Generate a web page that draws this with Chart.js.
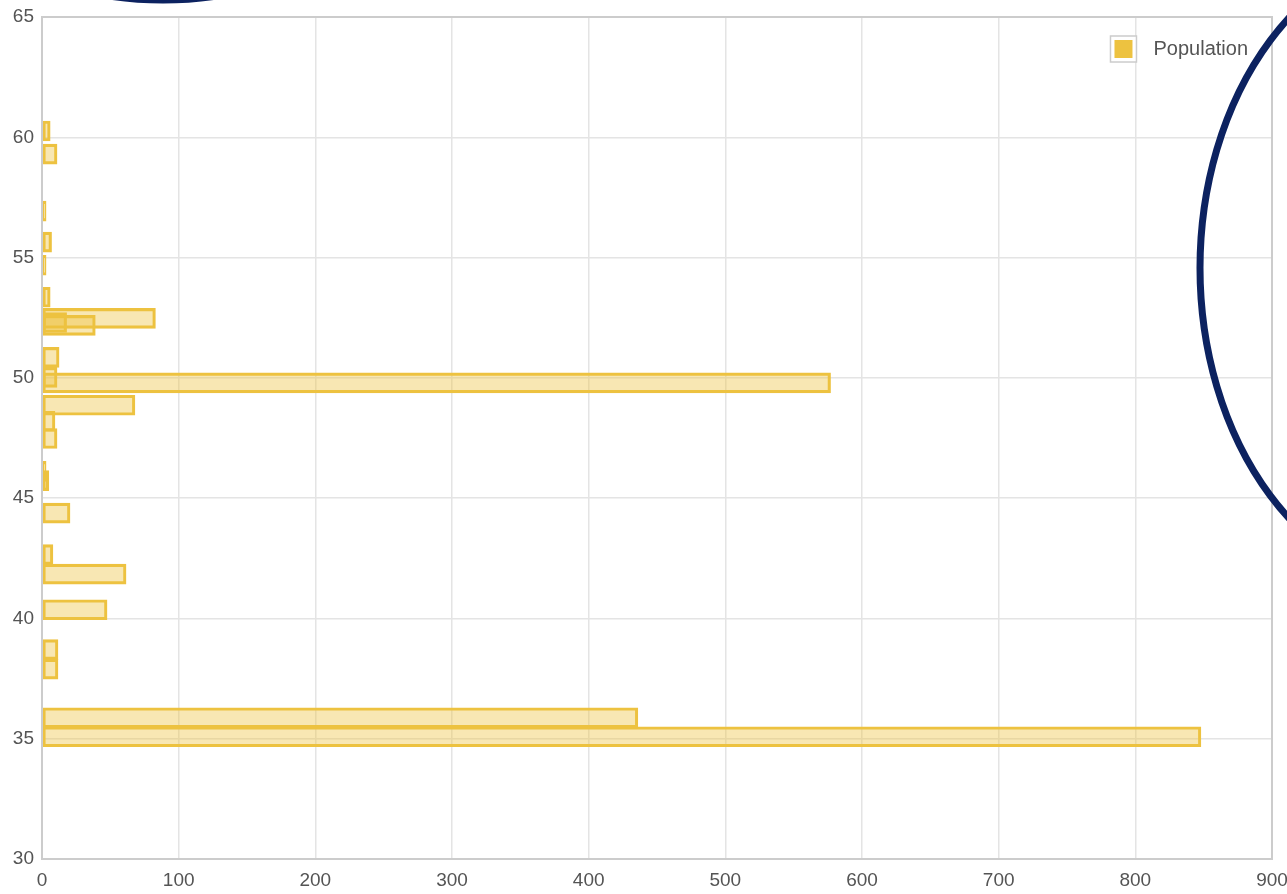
<!DOCTYPE html>
<html>
<head>
<meta charset="utf-8">
<script src="https://cdn.jsdelivr.net/npm/chart.js@4.4.1/dist/chart.umd.min.js"></script>
<style>
  html, body { margin: 0; padding: 0; background: #ffffff; }
  #wrap { width: 1287px; height: 894px; }
</style>
</head>
<body>
<div id="wrap"><canvas id="c" width="1287" height="894"></canvas></div>
<script>
// ---- data ----
const seriesLabel = "Population";
const latitudes  = [60.26, 59.30, 56.93, 55.64, 54.68, 53.35, 52.47, 52.30, 52.18, 50.85, 50.02, 49.79, 48.86, 48.19, 47.48, 46.11, 45.73, 44.38, 42.65, 41.84, 40.36, 38.70, 37.89, 35.87, 35.08];
const population = [6, 11, 3, 7, 3, 6, 83, 18, 39, 12.5, 11, 577, 68, 9.5, 11, 3, 5, 20.5, 8, 61.5, 47.6, 11.7, 11.7, 436, 848];
const yTickRange = [30, 65, 5];   // min, max, step
const xTickRange = [0, 900, 100]; // min, max, step

const points = latitudes.map((lat, i) => ({ x: population[i], y: lat }));
const FONT = "'Liberation Sans', Arial, sans-serif";

const frameLegendMarks = {
  id: 'frameLegendMarks',
  afterDraw(chart) {
    const ctx = chart.ctx;
    const a = chart.chartArea;
    ctx.save();
    // plot frame
    ctx.strokeStyle = '#cccccc';
    ctx.lineWidth = 2;
    ctx.strokeRect(a.left, a.top, a.right - a.left, a.bottom - a.top);

    // legend inside the plot area, top-right
    ctx.font = '20px ' + FONT;
    ctx.textBaseline = 'middle';
    ctx.textAlign = 'left';
    let y = a.top + 32;
    chart.data.datasets.forEach(ds => {
      const tw = ctx.measureText(ds.label).width;
      const tx = a.right - 24 - tw;
      const bx = tx - 21 - 18;
      ctx.fillStyle = '#ffffff';
      ctx.fillRect(bx - 4, y - 13, 26, 26);
      ctx.strokeStyle = '#cccccc';
      ctx.lineWidth = 1.5;
      ctx.strokeRect(bx - 4, y - 13, 26, 26);
      ctx.fillStyle = ds.borderColor;
      ctx.fillRect(bx, y - 9, 18, 18);
      ctx.fillStyle = '#545454';
      ctx.fillText(ds.label, tx, y);
      y += 28;
    });

    // hand-drawn annotation outlines
    ctx.strokeStyle = '#0c2260';
    ctx.lineWidth = 7;
    ctx.beginPath();
    ctx.ellipse(163, -300, 330, 300, 0, 0, Math.PI * 2);
    ctx.stroke();
    ctx.beginPath();
    ctx.ellipse(1440, 268, 240, 322, 0, 0, Math.PI * 2);
    ctx.stroke();
    ctx.restore();
  }
};

const tickFont = { family: FONT, size: 19 };

new Chart(document.getElementById('c'), {
  type: 'bar',
  data: {
    datasets: [{
      label: seriesLabel,
      data: points,
      backgroundColor: 'rgba(237,194,64,0.4)',
      borderColor: 'rgba(237,194,64,1)',
      borderWidth: 2.5,
      borderSkipped: false,
      barThickness: 20
    }]
  },
  options: {
    indexAxis: 'y',
    responsive: false,
    devicePixelRatio: 1,
    animation: false,
    layout: { padding: { top: 17, left: 0, right: 15, bottom: 0 } },
    plugins: {
      tooltip: { enabled: false },
      legend: { display: false }
    },
    scales: {
      x: {
        type: 'linear',
        min: xTickRange[0], max: xTickRange[1],
        offset: false,
        ticks: { stepSize: xTickRange[2], color: '#545454', font: tickFont, padding: 10, maxRotation: 0 },
        grid: { color: '#e4e4e4', lineWidth: 1.5, drawTicks: false, offset: false },
        border: { display: false },
        afterFit(s) { s.height = 35; s.paddingRight = 0; s.paddingLeft = 0; }
      },
      y: {
        type: 'linear',
        min: yTickRange[0], max: yTickRange[1],
        offset: false,
        ticks: { stepSize: yTickRange[2], color: '#545454', font: tickFont, padding: 8 },
        grid: { color: '#e4e4e4', lineWidth: 1.5, drawTicks: false, offset: false },
        border: { display: false },
        afterFit(s) { s.width = 42; s.paddingTop = 0; s.paddingBottom = 0; }
      }
    }
  },
  plugins: [frameLegendMarks]
});
</script>
</body>
</html>
